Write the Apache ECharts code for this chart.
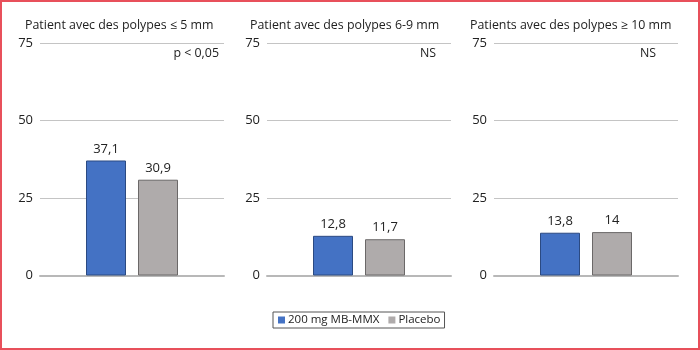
<!DOCTYPE html>
<html>
<head>
<meta charset="utf-8">
<script src="https://cdn.jsdelivr.net/npm/echarts@6/dist/echarts.min.js"></script>
<style>
html,body{margin:0;padding:0;background:#fff;}
#chart{width:700px;height:350px;}
</style>
</head>
<body>
<div id="chart"></div>
<script>
var panelTitles = ['Patient avec des polypes \u2264 5 mm', 'Patient avec des polypes 6-9 mm', 'Patients avec des polypes \u2265 10 mm'];
var panelNotes = ['p < 0,05', 'NS', 'NS'];
var seriesNames = ['200 mg MB-MMX', 'Placebo'];
var drugValues = [37.1, 12.8, 13.8];
var placeboValues = [30.9, 11.7, 14];
var yTicks = [0, 25, 50, 75];

var FONT = '"Open Sans", "Noto Sans", sans-serif';
var TXT = '#222';
var gridLefts = [40, 267, 494];
var gridW = 184;
var titleLefts = [25, 250, 470];
var noteRights = [219, 436, 656];

var grids = [], xAxes = [], yAxes = [], series = [], titles = [];
for (var i = 0; i < 3; i++) {
  grids.push({left: gridLefts[i], width: gridW, top: 43, height: 232.5, containLabel: false});
  xAxes.push({
    type: 'category', gridIndex: i, data: [''],
    axisLine: {show: true, lineStyle: {color: '#b8b8b8', width: 2}},
    axisTick: {show: false}, axisLabel: {show: false}
  });
  yAxes.push({
    type: 'value', gridIndex: i, min: yTicks[0], max: yTicks[yTicks.length - 1], interval: 25,
    axisLine: {show: false}, axisTick: {show: false},
    axisLabel: {color: TXT, fontSize: 13, fontFamily: FONT, margin: 7},
    splitLine: {lineStyle: {color: '#c4c4c4', width: 1}}
  });
  var lbl = {
    show: true, position: 'top', distance: 5, color: TXT, fontSize: 13, fontFamily: FONT,
    formatter: function (p) { return String(p.value).replace('.', ','); }
  };
  series.push({
    name: seriesNames[0], type: 'bar', xAxisIndex: i, yAxisIndex: i,
    data: [drugValues[i]], barWidth: 40, barGap: '30%',
    itemStyle: {color: '#4472c4', borderColor: '#2b4a82', borderWidth: 1},
    label: lbl
  });
  series.push({
    name: seriesNames[1], type: 'bar', xAxisIndex: i, yAxisIndex: i,
    data: [placeboValues[i]], barWidth: 40, barGap: '30%',
    itemStyle: {color: '#afabab', borderColor: '#6b6868', borderWidth: 1},
    label: lbl
  });
  titles.push({
    text: panelTitles[i], left: titleLefts[i], top: 19, padding: 0,
    textStyle: {color: TXT, fontSize: 12.4, fontWeight: 'normal', fontFamily: FONT}
  });
  titles.push({
    text: panelNotes[i], right: 700 - noteRights[i], top: 47, padding: 0,
    textStyle: {color: TXT, fontSize: 12.4, fontWeight: 'normal', fontFamily: FONT}
  });
}

var chart = echarts.init(document.getElementById('chart'), null, {renderer: 'canvas'});
chart.setOption({
  animation: false,
  backgroundColor: '#fff',
  title: titles,
  grid: grids,
  xAxis: xAxes,
  yAxis: yAxes,
  legend: {
    data: seriesNames, left: 273, top: 312,
    icon: 'rect', itemWidth: 7, itemHeight: 7, itemGap: 9,
    borderColor: '#555', borderWidth: 1, padding: [2, 4, 2, 5],
    itemStyle: {borderWidth: 0},
    textStyle: {color: TXT, fontSize: 11.5, fontFamily: FONT, padding: [0, 0, 0, -2]}
  },
  graphic: [{
    type: 'rect', silent: true,
    shape: {x: 1, y: 1, width: 698, height: 348},
    style: {fill: 'none', stroke: '#e8505b', lineWidth: 2}
  }],
  series: series
});
</script>
</body>
</html>
